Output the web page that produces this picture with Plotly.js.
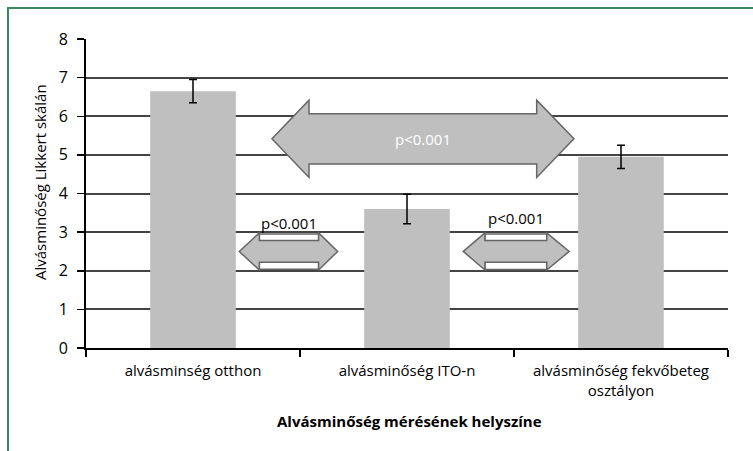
<!DOCTYPE html>
<html>
<head>
<meta charset="utf-8">
<script src="https://cdn.plot.ly/plotly-3.0.1.min.js"></script>
<style>html,body{margin:0;padding:0;background:#fff;}#chart{width:753px;height:451px;}</style>
</head>
<body>
<div id="chart"></div>
<script>
// ---- data ----
const categories = ["alvásminség otthon", "alvásminőség ITO-n", "alvásminőség fekvőbeteg<br>osztályon"];
const means = [6.65, 3.6, 4.95];
const errors = [0.3, 0.38, 0.3];
const yTicks = [0, 1, 2, 3, 4, 5, 6, 7, 8];
const pLabel = "p<0.001";
const xTitle = "Alvásminőség mérésének helyszíne";
const yTitle = "Alvásminőség Likkert skálán";

// ---- geometry helpers ----
const W = 753, H = 451;
const M = {l: 86, r: 25, t: 39, b: 103};
const PW = W - M.l - M.r, PH = H - M.t - M.b;
const px2paperX = px => (px - M.l) / PW;
const py2paperY = py => (H - M.b - py) / PH;

function dblArrow(xTipL, xHeadL, xHeadR, xTipR, yc, headHalf, shaftHalf) {
  return `M ${xTipL},${yc} L ${xHeadL},${yc+headHalf} L ${xHeadL},${yc+shaftHalf} L ${xHeadR},${yc+shaftHalf} ` +
         `L ${xHeadR},${yc+headHalf} L ${xTipR},${yc} L ${xHeadR},${yc-headHalf} L ${xHeadR},${yc-shaftHalf} ` +
         `L ${xHeadL},${yc-shaftHalf} L ${xHeadL},${yc-headHalf} Z`;
}

const arrowFill = "#bfbfbf", arrowLine = "#666666", green = "#3a8a60";

const shapes = [
  // frame
  {type: "line", xref: "paper", yref: "paper", x0: px2paperX(7), x1: px2paperX(760), y0: py2paperY(8), y1: py2paperY(8), line: {color: green, width: 2}, layer: "above"},
  {type: "line", xref: "paper", yref: "paper", x0: px2paperX(8), x1: px2paperX(8), y0: py2paperY(7), y1: py2paperY(460), line: {color: green, width: 2}, layer: "above"},
  // big arrow
  {type: "path", xref: "x", yref: "y", path: dblArrow(0.369, 0.542, 1.606, 1.780, 5.415, 1.0, 0.65), fillcolor: arrowFill, line: {color: arrowLine, width: 1.5}, layer: "above"},
  // small left arrow: outline rectangle then arrow
  {type: "rect", xref: "x", yref: "y", x0: 0.310, x1: 0.587, y0: 2.04, y1: 2.95, fillcolor: "#ffffff", line: {color: arrowLine, width: 1.5}, layer: "above"},
  {type: "path", xref: "x", yref: "y", path: dblArrow(0.216, 0.310, 0.587, 0.676, 2.50, 0.48, 0.28), fillcolor: arrowFill, line: {color: arrowLine, width: 1.5}, layer: "above"},
  // small right arrow
  {type: "rect", xref: "x", yref: "y", x0: 1.364, x1: 1.653, y0: 2.03, y1: 2.95, fillcolor: "#ffffff", line: {color: arrowLine, width: 1.5}, layer: "above"},
  {type: "path", xref: "x", yref: "y", path: dblArrow(1.263, 1.364, 1.653, 1.758, 2.50, 0.48, 0.28), fillcolor: arrowFill, line: {color: arrowLine, width: 1.5}, layer: "above"}
];

const annotations = [
  {x: 1.075, y: 5.415, xref: "x", yref: "y", xanchor: "center", yanchor: "middle", text: pLabel, showarrow: false, font: {family: "Open Sans", size: 15, color: "#ffffff"}},
  {x: 0.45, y: 3.24, xref: "x", yref: "y", xanchor: "center", yanchor: "middle", text: pLabel, showarrow: false, font: {family: "Open Sans", size: 15, color: "#000000"}},
  {x: 1.51, y: 3.36, xref: "x", yref: "y", xanchor: "center", yanchor: "middle", text: pLabel, showarrow: false, font: {family: "Open Sans", size: 15, color: "#000000"}},
  {x: px2paperX(40), y: py2paperY(182), xref: "paper", yref: "paper", xanchor: "center", yanchor: "middle", text: yTitle, textangle: -90, showarrow: false, font: {family: "Open Sans", size: 15, color: "#000"}},
  {x: px2paperX(410), y: py2paperY(421), xref: "paper", yref: "paper", xanchor: "center", yanchor: "middle", text: "<b>" + xTitle + "</b>", showarrow: false, font: {family: "Open Sans", size: 15, color: "#000"}}
];

const trace = {
  type: "bar",
  x: categories,
  y: means,
  width: 0.4,
  marker: {color: "#bfbfbf", line: {width: 0}},
  error_y: {type: "data", array: errors, visible: true, color: "#000000", thickness: 1.5, width: 4},
  hoverinfo: "skip"
};

const layout = {
  width: W, height: H,
  margin: M,
  paper_bgcolor: "#ffffff", plot_bgcolor: "#ffffff",
  showlegend: false,
  font: {family: "Open Sans", color: "#000"},
  xaxis: {
    type: "category", range: [-0.5, 2.5],
    showline: true, linecolor: "#000", linewidth: 2,
    ticks: "outside", tickson: "boundaries", ticklen: 7, tickcolor: "#000", tickwidth: 1.5,
    ticklabelstandoff: 8,
    showgrid: false, zeroline: false,
    tickfont: {family: "Open Sans", size: 15, color: "#000"},
    fixedrange: true
  },
  yaxis: {
    range: [0, 8], tickvals: yTicks, ticktext: yTicks.map(String),
    showline: true, linecolor: "#000", linewidth: 2,
    ticks: "outside", ticklen: 7, tickcolor: "#000", tickwidth: 1.5,
    ticklabelstandoff: 6,
    showgrid: true, gridcolor: "#444444", gridwidth: 2,
    zeroline: false,
    tickfont: {family: "Open Sans", size: 16, color: "#000"},
    fixedrange: true
  },
  shapes: shapes,
  annotations: annotations
};

Plotly.newPlot("chart", [trace], layout, {staticPlot: true, displayModeBar: false});
</script>
</body>
</html>
